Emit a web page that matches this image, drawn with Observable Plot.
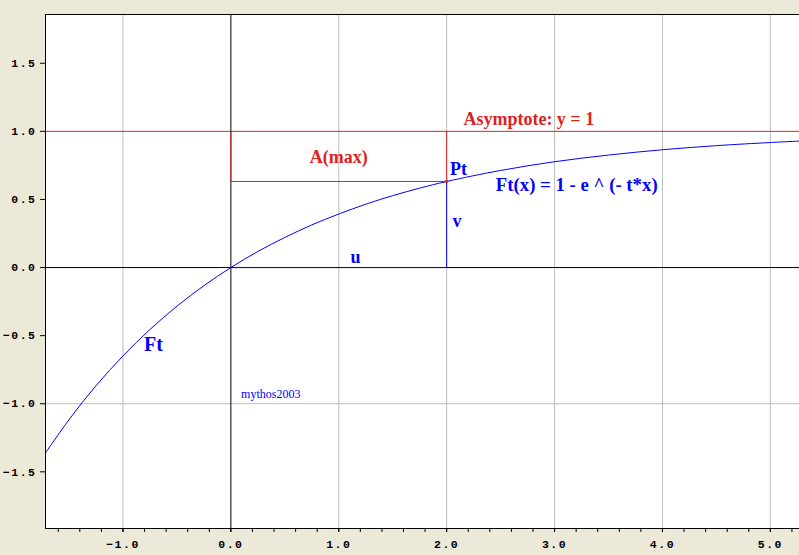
<!DOCTYPE html>
<html>
<head>
<meta charset="utf-8">
<script src="https://cdn.jsdelivr.net/npm/d3@7"></script>
<script src="https://cdn.jsdelivr.net/npm/@observablehq/plot@0.6"></script>
<style>
  html, body { margin: 0; padding: 0; background: #ece9d8; }
  #chart svg { display: block; }
  #chart g[aria-label$="tick label"] text { letter-spacing: 1.5px; }
</style>
</head>
<body>
<div id="chart"></div>
<script>
// Curve Ft(x), points
const curveX = [-1.72, -1.5, -1.25, -1.0, -0.75, -0.5, -0.25, 0, 0.25, 0.5, 0.75, 1.0, 1.25, 1.5, 1.75, 2.0, 2.5, 3.0, 3.5, 4.0, 4.5, 5.0, 5.28];
const curveY = [-1.363, -1.117, -0.868, -0.649, -0.455, -0.284, -0.133, 0, 0.118, 0.221, 0.313, 0.393, 0.465, 0.528, 0.583, 0.632, 0.713, 0.777, 0.826, 0.865, 0.895, 0.918, 0.929];

// Point Pt
const ptX = 2.0;
const ptY = 0.632;
const asymptote = 1.0;

// Tick values / labels
const xMajorTicks = [-1, 0, 1, 2, 3, 4, 5];
const yMajorTicks = [-1.5, -1.0, -0.5, 0.0, 0.5, 1.0, 1.5];
const xGrid = [-1, 1, 2, 3, 4, 5];
const yGrid = [-1];

// Annotation texts
const redLabels = ["A(max)", "Asymptote: y = 1"];
const blueLabels = ["Pt", "Ft(x) = 1 - e ^ (- t*x)", "v", "u", "Ft"];
const credit = "mythos2003";

const xDomain = [-1.718, 5.270];
const yDomain = [-1.916, 1.858];

const curve = curveX.map((x, i) => ({x, y: curveY[i]}));
const minorTicks = d3.range(-16, 53, 2).map(v => v / 10);
const fmt = d => (d < 0 ? "\u2212" : "") + Math.abs(d).toFixed(1);

const RED = "#dd2222";
const BLUE = "#0000ff";
const GRID = "#bdbdbd";
const serif = "'Liberation Serif', 'Times New Roman', serif";
const mono = "'Liberation Mono', 'Courier New', monospace";

// anchor positions in data coordinates
const redStart = [{x: 2.155, y: 1.045, t: redLabels[1]}];
const redMiddle = [{x: 1.0, y: 0.765, t: redLabels[0]}];
const blueStart = [
  {x: 2.03, y: 0.68, t: blueLabels[0]},
  {x: 2.055, y: 0.30, t: blueLabels[2]}
];
const blueFormula = [{x: 2.455, y: 0.56, t: blueLabels[1]}];
const blueMiddle = [{x: 1.155, y: 0.037, t: blueLabels[3]}];
const blueBig = [{x: -0.805, y: -0.615, t: blueLabels[4]}];

const textOpts = (fill, size, anchor) => ({x: "x", y: "y", text: "t", textAnchor: anchor, lineAnchor: "bottom", fill, fontFamily: serif, fontWeight: "bold", fontSize: size});

const chart = Plot.plot({
  width: 799,
  height: 555,
  marginLeft: 45,
  marginRight: 0,
  marginTop: 14,
  marginBottom: 27,
  style: {background: "#ece9d8", overflow: "visible"},
  x: {domain: xDomain, label: null},
  y: {domain: yDomain, label: null},
  marks: [
    Plot.frame({fill: "white", stroke: null}),
    // grid
    Plot.ruleX(xGrid, {stroke: GRID, strokeWidth: 1}),
    Plot.ruleY(yGrid, {stroke: GRID, strokeWidth: 1}),
    // asymptote
    Plot.ruleY([asymptote], {stroke: RED, strokeWidth: 1}),
    // coordinate axes
    Plot.ruleX([0], {stroke: "black"}),
    Plot.ruleY([0], {stroke: "black"}),
    // A(max) rectangle
    Plot.ruleX([0, ptX], {y1: ptY, y2: asymptote, stroke: RED}),
    Plot.ruleY([ptY], {x1: 0, x2: ptX, stroke: RED}),
    // u and v
    Plot.ruleX([ptX], {y1: 0, y2: ptY, stroke: BLUE}),
    Plot.ruleY([0], {x1: 0, x2: ptX, stroke: BLUE}),
    // curve
    Plot.line(curve, {x: "x", y: "y", stroke: BLUE, strokeWidth: 1, curve: "catmull-rom", clip: true}),
    Plot.dot([{x: ptX, y: ptY}], {x: "x", y: "y", r: 1.8, fill: RED, stroke: null}),
    // labels
    Plot.text(redStart, textOpts(RED, 18, "start")),
    Plot.text(redMiddle, textOpts(RED, 18, "middle")),
    Plot.text(blueStart, textOpts(BLUE, 18, "start")),
    Plot.text(blueFormula, textOpts(BLUE, 18.8, "start")),
    Plot.text(blueMiddle, textOpts(BLUE, 18, "middle")),
    Plot.text(blueBig, textOpts(BLUE, 20, "start")),
    Plot.text([{x: 0.095, y: -0.955}], {x: "x", y: "y", text: () => credit, textAnchor: "start", lineAnchor: "bottom", fill: BLUE, fontFamily: serif, fontSize: 12}),
    // frame lines (left, top, bottom)
    Plot.ruleX([xDomain[0]], {stroke: "black"}),
    Plot.ruleY([yDomain[0], yDomain[1]], {stroke: "black"}),
    // axes
    Plot.axisX({ticks: minorTicks, tickSize: 4, tickFormat: () => "", stroke: "black", label: null}),
    Plot.axisX({ticks: xMajorTicks, tickSize: 4, tickPadding: 7, tickFormat: fmt, stroke: "black", fill: "black", fontFamily: mono, fontWeight: "bold", fontSize: 11.5, label: null}),
    Plot.axisY({ticks: yMajorTicks, tickSize: 5, tickPadding: 4, tickFormat: fmt, stroke: "black", fill: "black", fontFamily: mono, fontWeight: "bold", fontSize: 11.5, label: null})
  ]
});

document.getElementById("chart").appendChild(chart);
</script>
</body>
</html>
